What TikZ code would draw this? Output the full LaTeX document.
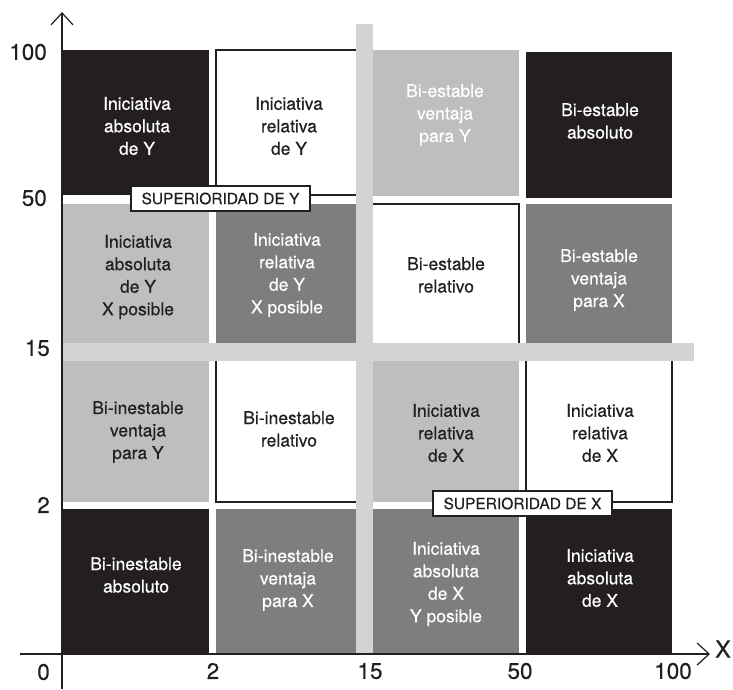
\documentclass[tikz,border=0pt]{standalone}
\usepackage{fontspec}
\setmainfont{TeX Gyre Heros}[FakeBold=0.35]
\usetikzlibrary{arrows.meta}
\definecolor{cellblack}{HTML}{231F20}
\definecolor{celldark}{HTML}{7E7E80}
\definecolor{celllight}{HTML}{BEBEC0}
\definecolor{bandgrey}{HTML}{D3D3D3}
\tikzset{
  celltext/.style={align=center, inner sep=0pt, font=\fontsize{17.5}{22.5}\selectfont},
  lighttext/.style={celltext, text=white},
  darktext/.style={celltext, text=cellblack},
  framed/.style={draw=cellblack, line width=1.2pt, fill=white},
  ticklabel/.style={font=\fontsize{22.5}{25}\selectfont, text=cellblack, inner sep=0pt},
  tag/.style={draw=cellblack, fill=white, line width=1.2pt, inner sep=0pt,
    minimum width=179pt, minimum height=25pt, text=cellblack,
    font=\fontsize{15.5}{18}\selectfont},
  axisline/.style={draw=cellblack, line width=1.2pt,
    -{Straight Barb[length=12pt,width=22pt,line width=1.2pt]}}
}
\begin{document}
\begin{tikzpicture}[x=1pt,y=-1pt]
\useasboundingbox (0,0) rectangle (733,689);

% ---- row 1 (top) ----
\fill[cellblack] (62,50) rectangle (209,195);
\path[framed] (216,50) rectangle (362,195);
\fill[celllight] (370,50) rectangle (519,196);
\fill[cellblack] (526,52) rectangle (672,198);
% ---- row 2 ----
\fill[celllight] (62,204) rectangle (209,346);
\fill[celldark] (216,204) rectangle (360,346);
\path[framed] (368,204) rectangle (519,350);
\fill[celldark] (526,204) rectangle (672,346);
% ---- row 3 ----
\fill[celllight] (62,358) rectangle (209,502);
\path[framed] (216,355) rectangle (362,502);
\fill[celllight] (370,358) rectangle (519,502);
\path[framed] (526,355) rectangle (672,502);
% ---- row 4 ----
\fill[cellblack] (62,509) rectangle (209,654);
\fill[celldark] (216,509) rectangle (360,654);
\fill[celldark] (370,509) rectangle (519,654);
\fill[cellblack] (526,509) rectangle (672,654);

% ---- dividing bands ----
\fill[bandgrey] (356,24) rectangle (373,654);
\fill[bandgrey] (62,343) rectangle (694,361);

% ---- cell texts ----
\node[lighttext] (a1) at (137,126) {Iniciativa\\absoluta\\de Y};
\node[darktext]  (a2) at (289,126) {Iniciativa\\relativa\\de Y};
\node[lighttext] (a3) at (445,115) {Bi-estable\\ventaja\\para Y};
\node[lighttext] (a4) at (600,121) {Bi-estable\\absoluto};

\node[darktext]  (b1) at (138,277) {Iniciativa\\absoluta\\de Y\\X posible};
\node[lighttext] (b2) at (287,275) {Iniciativa\\relativa\\de Y\\X posible};
\node[darktext]  (b3) at (446,275) {Bi-estable\\relativo};
\node[lighttext] (b4) at (599,280) {Bi-estable\\ventaja\\para X};

\node[darktext]  (c1) at (138,432) {Bi-inestable\\ventaja\\para Y};
\node[darktext]  (c2) at (289,429) {Bi-inestable\\relativo};
\node[darktext]  (c3) at (446,433) {Iniciativa\\relativa\\de X};
\node[darktext]  (c4) at (600,433) {Iniciativa\\relativa\\de X};

\node[lighttext] (d1) at (136,575) {Bi-inestable\\absoluto};
\node[lighttext] (d2) at (288,580) {Bi-inestable\\ventaja\\para X};
\node[lighttext] (d3) at (446,584) {Iniciativa\\absoluta\\de X\\Y posible};
\node[lighttext] (d4) at (600,578) {Iniciativa\\absoluta\\de X};

% ---- superiority tags ----
\node[tag] (supY) at (220.5,198.5) {SUPERIORIDAD DE Y};
\node[tag] (supX) at (522.5,503.5) {SUPERIORIDAD DE X};

% ---- axes ----
\coordinate (ybot) at (62,689);
\coordinate (ytop) at (62,12);
\coordinate (xleft) at (20,654);
\coordinate (xright) at (710,654);
\draw[axisline] (ybot) -- (ytop);
\draw[axisline] (xleft) -- (xright);

% ---- axis labels ----
\node[ticklabel, anchor=east] (y100) at (47,52) {100};
\node[ticklabel, anchor=east] (y50)  at (47,198) {50};
\node[ticklabel, anchor=east] (y15)  at (50,348) {15};
\node[ticklabel, anchor=east] (y2)   at (50,505) {2};
\node[ticklabel, anchor=east] (y0)   at (50,672) {0};
\node[ticklabel] (x2)   at (213,671) {2};
\node[ticklabel] (x15)  at (370,671) {15};
\node[ticklabel] (x50)  at (520,671) {50};
\node[ticklabel] (x100) at (673,671) {100};
\node[ticklabel, font=\fontsize{23.5}{26}\selectfont] (xname) at (723,649) {X};
\end{tikzpicture}
\end{document}
